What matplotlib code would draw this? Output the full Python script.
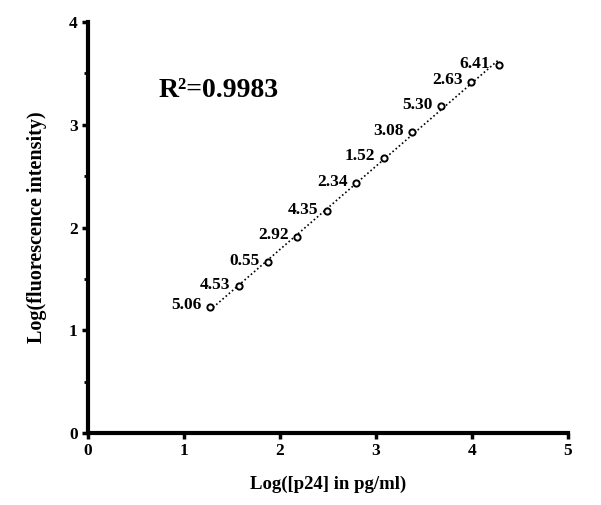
import matplotlib
matplotlib.use("Agg")
import matplotlib.pyplot as plt
import numpy as np

# log concentration vs log intensity, with CV labels
log_p24 = [1.27, 1.57, 1.88, 2.18, 2.49, 2.79, 3.08, 3.38, 3.68, 3.99, 4.28]
log_fluor = [1.23, 1.43, 1.66, 1.91, 2.16, 2.43, 2.68, 2.93, 3.18, 3.42, 3.58]
cv_labels = ['5.06', '4.53', '0.55', '2.92', '4.35', '2.34', '1.52', '3.08', '5.30', '2.63', '6.41']
r2_text = 'R²=0.9983'

plt.rcParams['font.family'] = ['Liberation Serif', 'DejaVu Serif']
plt.rcParams['font.weight'] = 'bold'

fig = plt.figure(figsize=(6.01, 5.05), dpi=100)
ax = fig.add_axes([0.1464, 0.1426, 0.7986, 0.8138])

x = np.array(log_p24)
y = np.array(log_fluor)

# trendline
k, b = np.polyfit(x, y, 1)
xs = np.array([x.min(), x.max()])
ax.plot(xs, k * xs + b, color='black', linestyle=(0, (1, 1.5)), linewidth=1.2, zorder=2)

ax.plot(x, y, linestyle='none', marker='o', markersize=4.5, markerfacecolor='white',
        markeredgecolor='black', markeredgewidth=1.4, zorder=3)

for xi, yi, lab in zip(x, y, cv_labels):
    ax.annotate(lab, (xi, yi), xytext=(-6, 1), textcoords='offset points',
                ha='right', va='center', fontsize=12.5, fontweight='bold')

ax.text(0.74, 3.33, r2_text, fontsize=20, fontweight='bold', ha='left', va='center')

ax.set_xlim(0, 5)
ax.set_ylim(0, 4)
ax.set_xticks([0, 1, 2, 3, 4, 5])
ax.set_yticks([0, 1, 2, 3, 4])
ax.set_yticks([0.5, 1.5, 2.5, 3.5], minor=True)

for s in ['top', 'right']:
    ax.spines[s].set_visible(False)
for s in ['left', 'bottom']:
    ax.spines[s].set_linewidth(3)

ax.tick_params(axis='both', which='major', direction='out', length=4, width=2.5,
               labelsize=12.5)
ax.tick_params(axis='y', which='minor', direction='out', length=3, width=2)
for t in ax.get_xticklabels() + ax.get_yticklabels():
    t.set_fontweight('bold')

ax.set_xlabel('Log([p24] in pg/ml)', fontsize=13.5, fontweight='bold', labelpad=12)
ax.set_ylabel('Log(fluorescence intensity)', fontsize=14.5, fontweight='bold', labelpad=16)

fig.savefig('out.png', dpi=100, facecolor='white')
